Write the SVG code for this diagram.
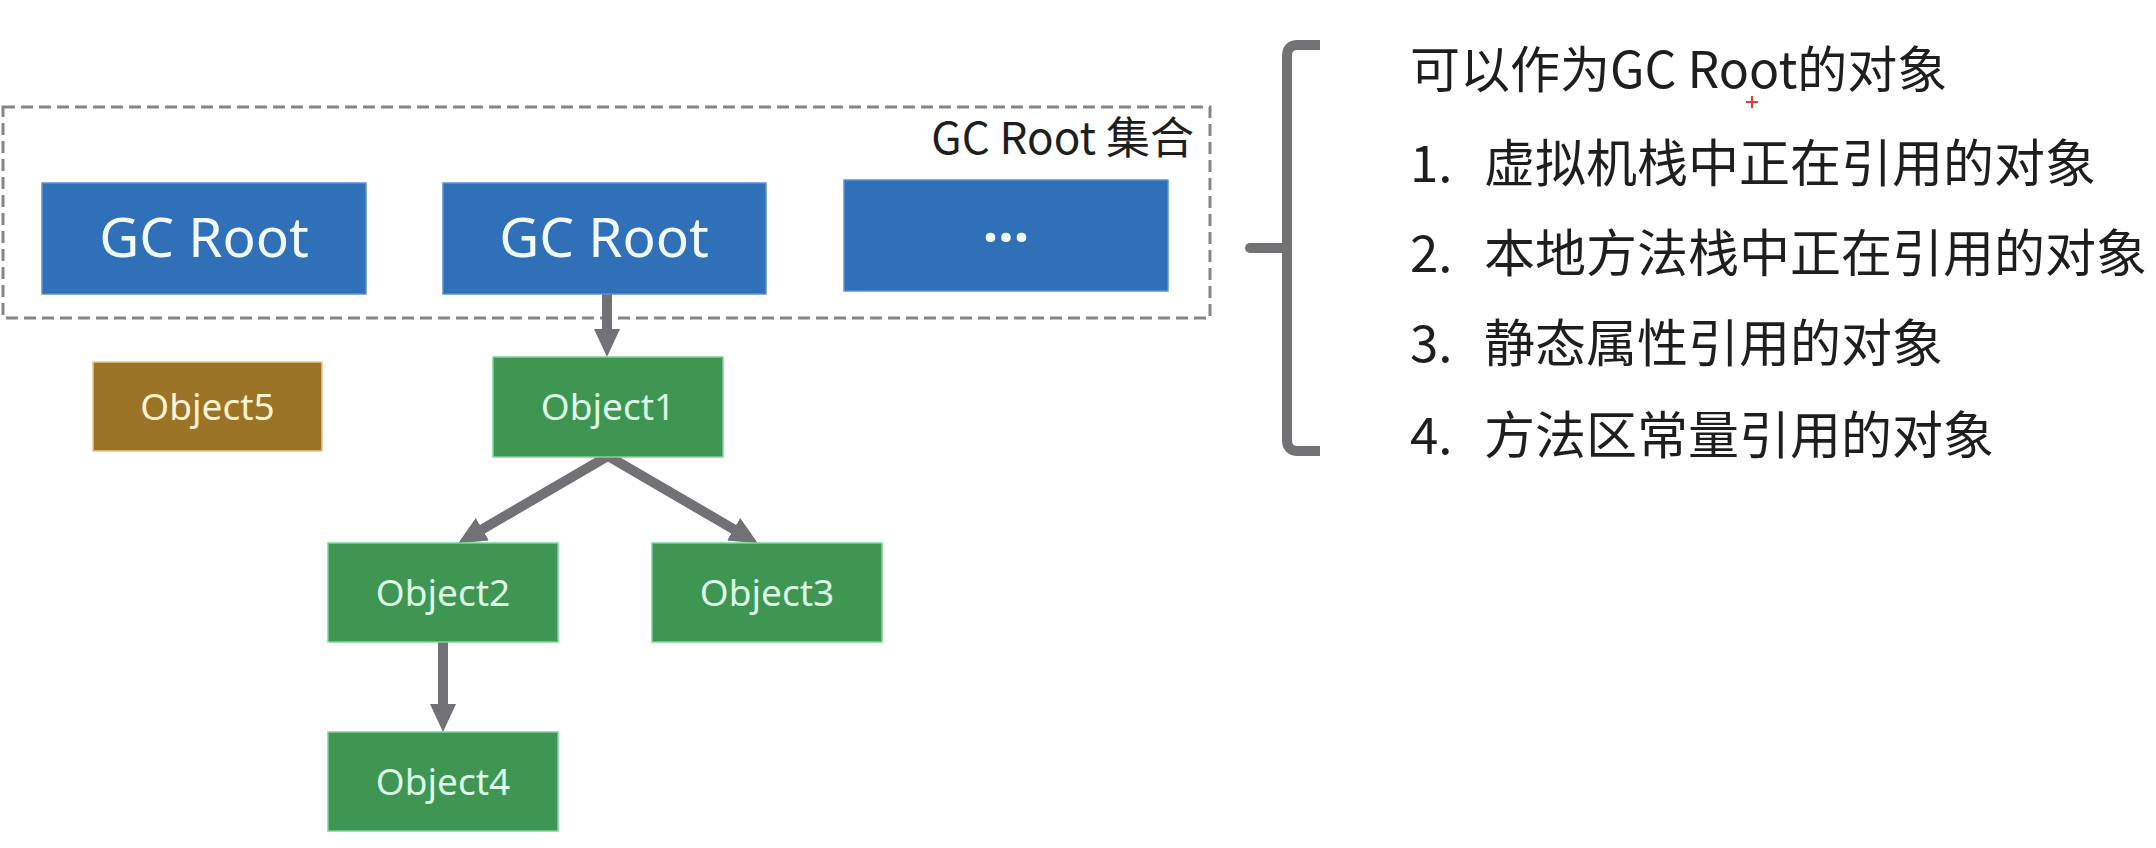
<svg xmlns="http://www.w3.org/2000/svg" width="2156" height="848" viewBox="0 0 2156 848">
  <style>
    .root rect { fill: #2F70B8; stroke: #5A93D2; stroke-width: 1.5; }
    .root text { font-family: "Noto Sans", "Noto Sans CJK SC", sans-serif; font-size: 55px; fill: #F2FAFF; text-anchor: middle; }
    .obj rect { fill: #3E9652; stroke: #7ED39A; stroke-width: 1.5; }
    .obj text { font-family: "Noto Sans", sans-serif; font-size: 37px; fill: #DDFBE6; text-anchor: middle; }
    .dead rect { fill: #9C7428; stroke: #E8C98A; stroke-width: 1.5; }
    .dead text { font-family: "Noto Sans", sans-serif; font-size: 37px; fill: #FFF3D2; text-anchor: middle; }
    .conn line { stroke: #717176; stroke-width: 10; fill: none; }
    .txt { font-family: "Noto Sans CJK SC", "Noto Sans", sans-serif; fill: #1E1E1E; }
  </style>
  <defs>
    <marker id="arrow" markerUnits="userSpaceOnUse" markerWidth="30" markerHeight="28" refX="4" refY="13" orient="auto">
      <path d="M0,0 L28,13 L0,26 Z" fill="#717176"/>
    </marker>
  </defs>
  <rect width="2156" height="848" fill="#FFFFFF"/>

  <g id="gc-root-set">
    <rect x="3" y="107" width="1207" height="211" fill="none" stroke="#858585" stroke-width="3" stroke-dasharray="12 6"/>
    <text class="txt" x="1194" y="154" font-size="44" text-anchor="end">GC Root 集合</text>
  </g>

  <g id="connectors" class="conn">
    <line x1="607" y1="294" x2="607" y2="333" marker-end="url(#arrow)"/>
    <line x1="608" y1="456" x2="478.9" y2="531.2" marker-end="url(#arrow)"/>
    <line x1="608" y1="456" x2="737.1" y2="531.2" marker-end="url(#arrow)"/>
    <line x1="443" y1="642" x2="443" y2="708" marker-end="url(#arrow)"/>
  </g>

  <g id="gcroot1" class="root">
    <rect x="42" y="183" width="324" height="111"/>
    <text x="204" y="257">GC Root</text>
  </g>
  <g id="gcroot2" class="root">
    <rect x="443" y="183" width="323" height="111"/>
    <text x="604" y="257">GC Root</text>
  </g>
  <g id="gcroot3" class="root">
    <rect x="844" y="180" width="324" height="111"/>
    <text x="1006" y="257" font-weight="bold">···</text>
  </g>

  <g id="object5" class="dead">
    <rect x="93" y="362" width="229" height="89"/>
    <text x="207.5" y="420">Object5</text>
  </g>
  <g id="object1" class="obj">
    <rect x="493" y="357" width="230" height="100"/>
    <text x="608" y="420">Object1</text>
  </g>
  <g id="object2" class="obj">
    <rect x="328" y="543" width="230" height="99"/>
    <text x="443" y="606">Object2</text>
  </g>
  <g id="object3" class="obj">
    <rect x="652" y="543" width="230" height="99"/>
    <text x="767" y="606">Object3</text>
  </g>
  <g id="object4" class="obj">
    <rect x="328" y="732" width="230" height="99"/>
    <text x="443" y="795">Object4</text>
  </g>

  <g id="bracket">
    <path d="M1320,45 L1298,45 Q1287,45 1287,56 L1287,440 Q1287,451 1298,451 L1320,451" fill="none" stroke="#717176" stroke-width="10"/>
    <line x1="1287" y1="248" x2="1250" y2="248" stroke="#717176" stroke-width="10" stroke-linecap="round"/>
  </g>

  <g id="legend" class="txt" font-size="51">
    <text x="1410" y="88" font-size="50">可以作为GC Root的对象</text>
    <text x="1410" y="182">1.</text>
    <text x="1484" y="182">虚拟机栈中正在引用的对象</text>
    <text x="1410" y="272">2.</text>
    <text x="1484" y="272">本地方法栈中正在引用的对象</text>
    <text x="1410" y="362">3.</text>
    <text x="1484" y="362">静态属性引用的对象</text>
    <text x="1410" y="454">4.</text>
    <text x="1484" y="454">方法区常量引用的对象</text>
  </g>

  <g id="cursor" stroke="#E53935" stroke-width="2">
    <line x1="1746" y1="102" x2="1758" y2="102"/>
    <line x1="1752" y1="96" x2="1752" y2="108"/>
  </g>
</svg>
